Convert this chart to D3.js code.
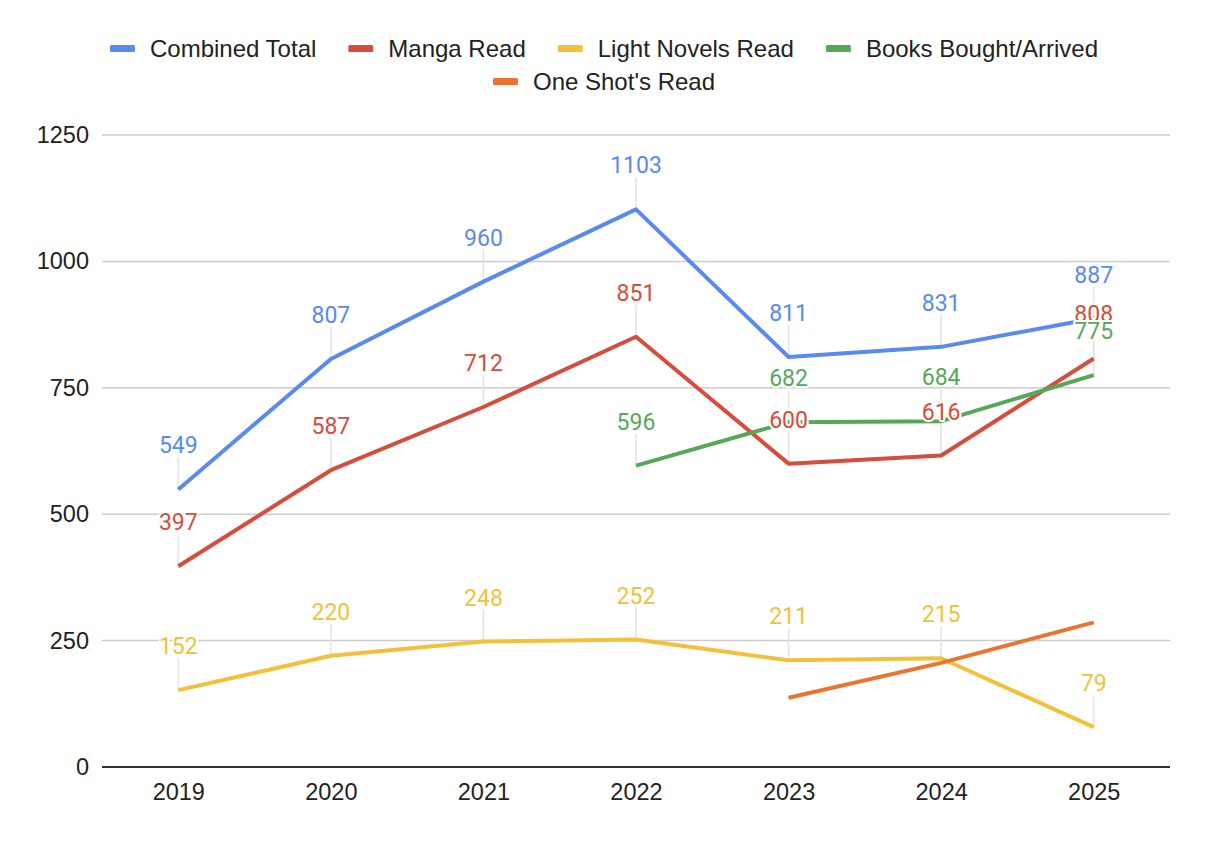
<!DOCTYPE html>
<html>
<head>
<meta charset="utf-8">
<script src="https://cdn.jsdelivr.net/npm/d3@7"></script>
<style>
  body { margin: 0; background: #fff; }
</style>
</head>
<body>
<div id="chart"></div>
<script>
// chart data
var years = ["2019", "2020", "2021", "2022", "2023", "2024", "2025"];
var combinedTotal = [549, 807, 960, 1103, 811, 831, 887];
var mangaRead = [397, 587, 712, 851, 600, 616, 808];
var lightNovelsRead = [152, 220, 248, 252, 211, 215, 79];
var booksBought = [null, null, null, 596, 682, 684, 775];
var oneShotsRead = [null, null, null, null, 137, 206, 286];
var yTicks = [0, 250, 500, 750, 1000, 1250];

var series = [
    { name: "Combined Total", values: combinedTotal, color: "#5a8aee", labels: true },
    { name: "Manga Read", values: mangaRead, color: "#d44d3d", labels: true },
    { name: "Light Novels Read", values: lightNovelsRead, color: "#f2c13c", labels: true },
    { name: "Books Bought/Arrived", values: booksBought, color: "#57a75b", labels: true },
    { name: "One Shot's Read", values: oneShotsRead, color: "#ea742e", labels: false }
];

var sansFont = "'Liberation Sans', Arial, Helvetica, sans-serif";

var W = 1212, H = 842;
var margin = { top: 135, right: 42, bottom: 75, left: 102 },
    width = W - margin.left - margin.right,
    height = H - margin.top - margin.bottom;

var root = d3.select("#chart")
    .append("svg")
    .attr("width", W)
    .attr("height", H);

var svg = root.append("g")
    .attr("transform", "translate(" + margin.left + "," + margin.top + ")");

var x = d3.scalePoint()
    .domain(years)
    .range([0, width])
    .padding(0.5);

var y = d3.scaleLinear()
    .domain([0, 1250])
    .range([height, 0]);

// gridlines
svg.append("g")
    .selectAll("line")
    .data(yTicks.filter(function(t) { return t > 0; }))
    .enter()
    .append("line")
    .attr("x1", 0)
    .attr("x2", width)
    .attr("y1", function(d) { return y(d); })
    .attr("y2", function(d) { return y(d); })
    .attr("stroke", "#cccccc")
    .attr("stroke-width", 1.5);

// y axis labels
var yAxis = svg.append("g")
    .call(d3.axisLeft(y).tickValues(yTicks).tickFormat(d3.format("d")).tickSize(0).tickPadding(13));
yAxis.select(".domain").remove();
yAxis.selectAll("text")
    .style("font-family", sansFont)
    .style("font-size", "23.5px")
    .attr("fill", "#222");

// x axis
var xAxis = svg.append("g")
    .attr("transform", "translate(0," + height + ")")
    .call(d3.axisBottom(x).tickSize(0).tickPadding(16));
xAxis.select(".domain")
    .attr("d", "M0,0H" + width)
    .attr("stroke", "#333")
    .attr("stroke-width", 2);
xAxis.selectAll("text")
    .style("font-family", sansFont)
    .style("font-size", "23.5px")
    .attr("fill", "#222");

// leader lines under the data lines
var labelled = series.filter(function(s) { return s.labels; });
labelled.forEach(function(s) {
    svg.append("g")
        .selectAll("line")
        .data(years.map(function(yr, i) { return { yr: yr, v: s.values[i] }; })
            .filter(function(d) { return d.v != null; }))
        .enter()
        .append("line")
        .attr("x1", function(d) { return x(d.yr); })
        .attr("x2", function(d) { return x(d.yr); })
        .attr("y1", function(d) { return y(d.v); })
        .attr("y2", function(d) { return y(d.v) - 32; })
        .attr("stroke", "#e3e3e3")
        .attr("stroke-width", 1.5);
});

// lines
var line = d3.line()
    .defined(function(d) { return d.v != null; })
    .x(function(d) { return x(d.yr); })
    .y(function(d) { return y(d.v); });

series.forEach(function(s) {
    svg.append("path")
        .datum(years.map(function(yr, i) { return { yr: yr, v: s.values[i] }; }))
        .attr("fill", "none")
        .attr("stroke", s.color)
        .attr("stroke-width", 4)
        .attr("stroke-linejoin", "round")
        .attr("d", line);
});

// data labels with white halo
labelled.forEach(function(s) {
    svg.append("g")
        .selectAll("text")
        .data(years.map(function(yr, i) { return { yr: yr, v: s.values[i] }; })
            .filter(function(d) { return d.v != null; }))
        .enter()
        .append("text")
        .attr("x", function(d) { return x(d.yr); })
        .attr("y", function(d) { return y(d.v) - 36; })
        .attr("text-anchor", "middle")
        .style("font-family", "Roboto, sans-serif")
        .style("font-size", "23px")
        .attr("fill", s.color)
        .attr("stroke", "#fff")
        .attr("stroke-width", 4)
        .attr("stroke-linejoin", "round")
        .attr("paint-order", "stroke")
        .text(function(d) { return d.v; });
});

// legend, two centred rows
var legendRows = [series.slice(0, 4), series.slice(4)];
var legendBaselines = [57, 90];
var legendCenter = 604;
legendRows.forEach(function(row, r) {
    var g = root.append("g");
    var xpos = 0;
    row.forEach(function(s, i) {
        var item = g.append("g").attr("transform", "translate(" + xpos + ",0)");
        item.append("rect")
            .attr("x", 0)
            .attr("y", legendBaselines[r] - 12)
            .attr("width", 25)
            .attr("height", 7)
            .attr("rx", 1.5)
            .attr("fill", s.color);
        var t = item.append("text")
            .attr("x", 40)
            .attr("y", legendBaselines[r])
            .style("font-family", sansFont)
            .style("font-size", "24px")
            .attr("fill", "#222")
            .text(s.name);
        xpos += 40 + t.node().getComputedTextLength() + 32;
    });
    var total = xpos - 32;
    g.attr("transform", "translate(" + (legendCenter - total / 2) + ",0)");
});
</script>
</body>
</html>
